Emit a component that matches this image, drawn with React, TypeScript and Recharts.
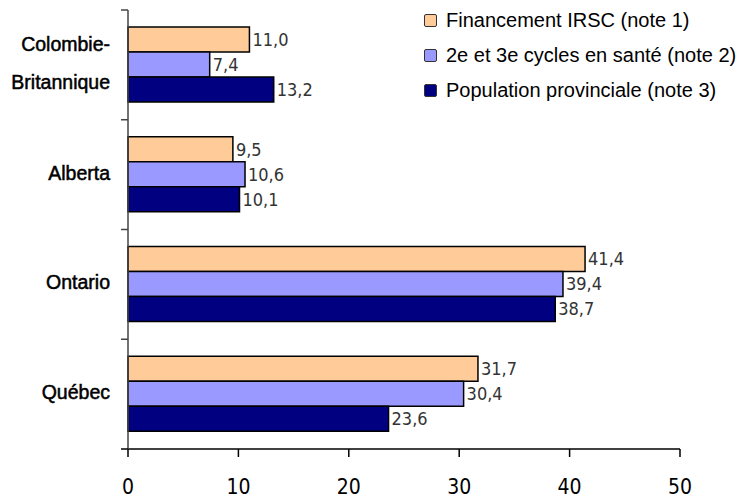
import React from "react"
import { BarChart, Bar, XAxis, YAxis, LabelList } from "recharts"

const CATEGORIES = ["Colombie-Britannique", "Alberta", "Ontario", "Québec"]
const IRSC = [11.0, 9.5, 41.4, 31.7]
const CYCLES = [7.4, 10.6, 39.4, 30.4]
const POPULATION = [13.2, 10.1, 38.7, 23.6]
const X_TICKS = [0, 10, 20, 30, 40, 50]

const SERIES = [
  { key: "irsc", name: "Financement IRSC (note 1)", color: "#FFCC99" },
  { key: "cycles", name: "2e et 3e cycles en santé (note 2)", color: "#9999FF" },
  { key: "population", name: "Population provinciale (note 3)", color: "#000080" },
]

const data = CATEGORIES.map((c, i) => ({
  province: c,
  irsc: IRSC[i],
  cycles: CYCLES[i],
  population: POPULATION[i],
}))

const NARROW = "'DejaVu Sans Condensed', 'Liberation Sans Narrow', 'Arial Narrow', 'Liberation Sans', sans-serif"
const SANS = "'Liberation Sans', Arial, sans-serif"

function CategoryTick(props: any) {
  const { x, y, payload, index, height } = props
  const band = height / CATEGORIES.length
  const label: string = payload.value
  const lines = label === "Colombie-Britannique" ? ["Colombie-", "Britannique"] : [label]
  const lh = 38
  const startY = y - ((lines.length - 1) * lh) / 2 - 2
  const axisX = x + 8
  return (
    <g>
      <line x1={axisX - 7} x2={axisX} y1={y - band / 2} y2={y - band / 2} stroke="#444" strokeWidth={1.5} />
      {index === CATEGORIES.length - 1 && (
        <line x1={axisX - 7} x2={axisX} y1={y + band / 2} y2={y + band / 2} stroke="#000" strokeWidth={1.5} />
      )}
      <text x={axisX - 18} y={startY} textAnchor="end" dominantBaseline="central" fontFamily={SANS} fontSize={19.5} fill="#000" stroke="#000" strokeWidth={0.5}>
        {lines.map((l, i) => (
          <tspan key={i} x={axisX - 18} y={startY + i * lh}>{l}</tspan>
        ))}
      </text>
    </g>
  )
}

function ValueTick(props: any) {
  const { x, y, payload } = props
  return (
    <text x={x} y={y + 28} textAnchor="middle" dominantBaseline="central" fontFamily={NARROW} fontSize={21} fill="#000">
      {payload.value}
    </text>
  )
}

function LegendBox() {
  return (
    <div style={{ position: "absolute", left: 424, top: 3, fontFamily: SANS, fontSize: 20, color: "#000" }}>
      {SERIES.map((s) => (
        <div key={s.key} style={{ display: "flex", alignItems: "center", height: 35 }}>
          <span style={{ display: "inline-block", width: 11, height: 11, background: s.color, border: "1.5px solid #333", borderRadius: 2, marginRight: 9 }} />
          <span>{s.name}</span>
        </div>
      ))}
    </div>
  )
}

const fmt = (v: any) => Number(v).toFixed(1).replace(".", ",")

export default function App() {
  return (
    <div style={{ position: "absolute", left: 0, top: 0, width: 738, height: 498, background: "#fff" }}>
      <BarChart
        width={738}
        height={498}
        data={data}
        layout="vertical"
        margin={{ top: 10, right: 58, bottom: 0, left: 0 }}
        barGap={0}
      >
        <XAxis
          type="number"
          domain={[0, 50]}
          ticks={X_TICKS}
          height={49}
          axisLine={{ stroke: "#000", strokeWidth: 1.5 }}
          tickLine={{ stroke: "#000", strokeWidth: 1.5 }}
          tickSize={8}
          tick={<ValueTick />}
        />
        <YAxis
          type="category"
          dataKey="province"
          width={128}
          axisLine={{ stroke: "#444", strokeWidth: 1.5 }}
          tickLine={false}
          tick={<CategoryTick />}
        />
        {SERIES.map((s) => (
          <Bar
            key={s.key}
            dataKey={s.key}
            name={s.name}
            fill={s.color}
            stroke="#000"
            strokeWidth={1.5}
            barSize={25}
            isAnimationActive={false}
          >
            <LabelList
              dataKey={s.key}
              position="right"
              offset={3}
              formatter={fmt}
              style={{ fontFamily: NARROW, fontSize: 18, fill: "#333" }}
            />
          </Bar>
        ))}
      </BarChart>
      <LegendBox />
    </div>
  )
}
